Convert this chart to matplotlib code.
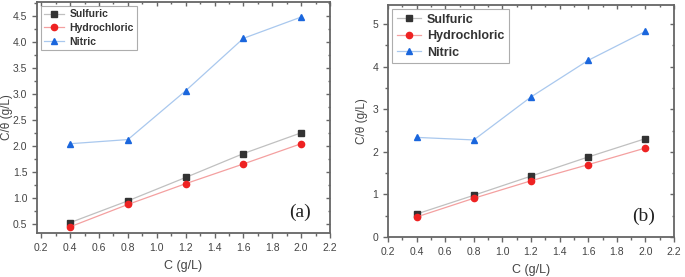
import matplotlib
matplotlib.use("Agg")
import matplotlib.pyplot as plt
from matplotlib.ticker import MultipleLocator, AutoMinorLocator

plt.rcParams['font.family'] = ['Liberation Sans', 'DejaVu Sans']

conc = [0.4, 0.8, 1.2, 1.6, 2.0]

# panel (a)
sulf_a = [0.52, 0.94, 1.39, 1.85, 2.25]
hcl_a = [0.44, 0.87, 1.27, 1.65, 2.04]
nitric_a = [2.04, 2.12, 3.06, 4.07, 4.48]

# panel (b)
sulf_b = [0.54, 0.98, 1.43, 1.88, 2.31]
hcl_b = [0.47, 0.91, 1.32, 1.70, 2.09]
nitric_b = [2.34, 2.28, 3.29, 4.15, 4.83]

names = ["Sulfuric", "Hydrochloric", "Nitric"]

fig = plt.figure(figsize=(6.85, 2.77), dpi=100)
ax1 = fig.add_axes([37/685, 1 - 233/277, 293/685, 231/277])
ax2 = fig.add_axes([388/685, 1 - 237/277, 286/685, 232/277])

spine_col = "#666666"
txt_col = "#444444"


def draw(ax, s, h, n, ylim, ymajor, yminor, tag, legsize):
    ax.plot(conc, s, color="#c0c0c0", lw=0.9, marker="s", ms=4.5,
            mfc="#333333", mec="#333333", label=names[0])
    ax.plot(conc, h, color="#f4a0a0", lw=0.9, marker="o", ms=4.5,
            mfc="#ee2222", mec="#ee2222", label=names[1])
    ax.plot(conc, n, color="#a9c8ee", lw=0.9, marker="^", ms=5,
            mfc="#1a66dd", mec="#1a66dd", label=names[2])
    ax.set_ylim(*ylim)
    ax.xaxis.set_major_locator(MultipleLocator(0.2))
    ax.xaxis.set_minor_locator(AutoMinorLocator(2))
    ax.yaxis.set_major_locator(MultipleLocator(ymajor))
    ax.yaxis.set_minor_locator(MultipleLocator(yminor))
    ax.xaxis.set_major_formatter(plt.FormatStrFormatter("%.1f"))
    for sp in ax.spines.values():
        sp.set_color(spine_col)
        sp.set_linewidth(1.3)
    ax.tick_params(which="both", direction="out", colors=spine_col,
                   labelcolor=txt_col, labelsize=7.5, width=1.0)
    ax.tick_params(which="major", length=3.5)
    ax.tick_params(which="minor", length=2)
    # inward ticks on top and right
    sec_x = ax.secondary_xaxis("top")
    sec_x.xaxis.set_major_locator(MultipleLocator(0.2))
    sec_x.xaxis.set_minor_locator(AutoMinorLocator(2))
    sec_x.tick_params(which="both", direction="in", colors=spine_col,
                      labeltop=False, width=1.0)
    sec_x.tick_params(which="major", length=3)
    sec_x.tick_params(which="minor", length=1.5)
    sec_x.spines["top"].set_visible(False)
    sec_y = ax.secondary_yaxis("right")
    sec_y.yaxis.set_major_locator(MultipleLocator(ymajor))
    sec_y.yaxis.set_minor_locator(MultipleLocator(yminor))
    sec_y.tick_params(which="both", direction="in", colors=spine_col,
                      labelright=False, width=1.0)
    sec_y.tick_params(which="major", length=3)
    sec_y.tick_params(which="minor", length=1.5)
    sec_y.spines["right"].set_visible(False)
    ax.set_xlabel("C (g/L)", fontsize=9, color=txt_col, labelpad=5)
    ax.set_ylabel("C/\u03b8 (g/L)", fontsize=8.5, color=txt_col, labelpad=3)
    ax.text(0.935, 0.09, tag, transform=ax.transAxes, ha="right", va="center",
            fontsize=14, family="Liberation Serif", color="#222222")
    leg = ax.legend(loc="upper left", prop={"weight": "bold", "size": legsize},
                    frameon=True, fancybox=False, borderpad=0.35,
                    labelspacing=0.35, handlelength=1.9, handletextpad=0.5,
                    borderaxespad=0.35)
    leg.get_frame().set_edgecolor("#999999")
    leg.get_frame().set_linewidth(0.8)
    for t in leg.get_texts():
        t.set_color("#333333")


draw(ax1, sulf_a, hcl_a, nitric_a, (0.32, 4.77), 0.5, 0.25, "(a)", 7.5)
ax1.set_xlim(0.17, 2.2)
ax1.yaxis.set_major_formatter(plt.FormatStrFormatter("%.1f"))
ax1.yaxis.set_label_coords(-24/293, 0.5)

draw(ax2, sulf_b, hcl_b, nitric_b, (0, 5.45), 1, 0.5, "(b)", 9)
ax2.set_xlim(0.2, 2.2)

fig.savefig("out.png", dpi=100)
